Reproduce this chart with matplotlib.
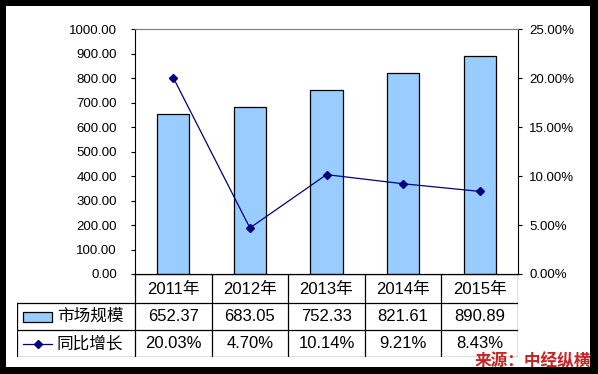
import numpy as np
import matplotlib.pyplot as plt
from matplotlib.patches import Rectangle
from matplotlib.lines import Line2D

plt.rcParams['font.family'] = ['Liberation Sans', 'Noto Sans CJK SC', 'DejaVu Sans']

years = ['2011年', '2012年', '2013年', '2014年', '2015年']
market = [652.37, 683.05, 752.33, 821.61, 890.89]
growth = [20.03, 4.70, 10.14, 9.21, 8.43]
market_labels = ['652.37', '683.05', '752.33', '821.61', '890.89']
growth_labels = ['20.03%', '4.70%', '10.14%', '9.21%', '8.43%']
name_bar = '市场规模'
name_line = '同比增长'
source = '来源：中经纵横'

W, H = 598, 374
fig = plt.figure(figsize=(W / 100, H / 100), dpi=100, facecolor='black')

def px(x0, y0, x1, y1):
    return [x0 / W, 1 - y1 / H, (x1 - x0) / W, (y1 - y0) / H]

# white panel inside the black frame
bg = fig.add_axes(px(6, 6, 590, 367))
bg.set_facecolor('white')
bg.set_xticks([]); bg.set_yticks([])
for s in bg.spines.values():
    s.set_visible(False)

x = np.arange(len(years))
ax = fig.add_axes(px(135, 29, 518, 274))
ax.bar(x, market, width=0.42, color='#99CCFF', edgecolor='black', linewidth=0.9, zorder=2)
ax.set_xlim(-0.5, len(years) - 0.5)
ax.set_ylim(0, 1000)
ax.set_yticks(np.arange(0, 1001, 100))
ax.set_yticklabels(['%.2f' % v for v in np.arange(0, 1001, 100)], fontsize=9.5)
ax.set_xticks([])
ax.tick_params(axis='y', direction='out', length=3, width=0.8, pad=10)
ax.spines['top'].set_color('#808080')
ax.spines['right'].set_visible(False)
ax.patch.set_alpha(0)

ax2 = ax.twinx()
ax2.plot(x, growth, color='#000080', linewidth=0.9, marker='D', markersize=3.8, zorder=3)
ax2.set_ylim(0, 25)
ax2.set_yticks(np.arange(0, 26, 5))
ax2.set_yticklabels(['%.2f%%' % v for v in np.arange(0, 26, 5)], fontsize=9.5)
ax2.tick_params(axis='y', direction='out', length=3, width=0.8, pad=5)
ax2.spines['top'].set_color('#808080')
ax2.spines['left'].set_visible(False)

# data table below the plot
unit = 383 / len(years)
left = -0.5 - (135 - 17) / unit
tb = fig.add_axes(px(17, 274, 518, 357))
tb.set_xlim(left, len(years) - 0.5)
tb.set_ylim(83, 0)
tb.axis('off')
lw = 0.9
rows = [0, 29, 56, 83]
tb.plot([-0.5, len(years) - 0.5], [0, 0], color='black', lw=lw)
for r in rows[1:]:
    tb.plot([left, len(years) - 0.5], [r, r], color='black', lw=lw)
for i in range(len(years) + 1):
    tb.plot([i - 0.5, i - 0.5], [0, 83], color='black', lw=lw)
tb.plot([left, left], [29, 83], color='black', lw=lw)

fs = 12
for i in range(len(years)):
    tb.text(i, 15, years[i], ha='center', va='center', fontsize=fs)
    tb.text(i, 42.5, market_labels[i], ha='center', va='center', fontsize=fs)
    tb.text(i, 70, growth_labels[i], ha='center', va='center', fontsize=fs)

# legend keys
k0 = left + 6 / unit
k1 = left + 35 / unit
tb.add_patch(Rectangle((k0, 37.5), k1 - k0, 10, facecolor='#99CCFF', edgecolor='black', lw=0.9))
tb.text(left + 40 / unit, 42.5, name_bar, ha='left', va='center', fontsize=fs)
tb.add_line(Line2D([k0, k1], [70, 70], color='#000080', lw=0.9))
tb.plot([(k0 + k1) / 2], [70], marker='D', markersize=3.8, color='#000080')
tb.text(left + 40 / unit, 70, name_line, ha='left', va='center', fontsize=fs)

fig.text(533 / W, 1 - 361 / H, source, ha='center', va='center', fontsize=12,
         fontweight='bold', color='#C42424')

fig.savefig('out.png', dpi=100, facecolor='black')
